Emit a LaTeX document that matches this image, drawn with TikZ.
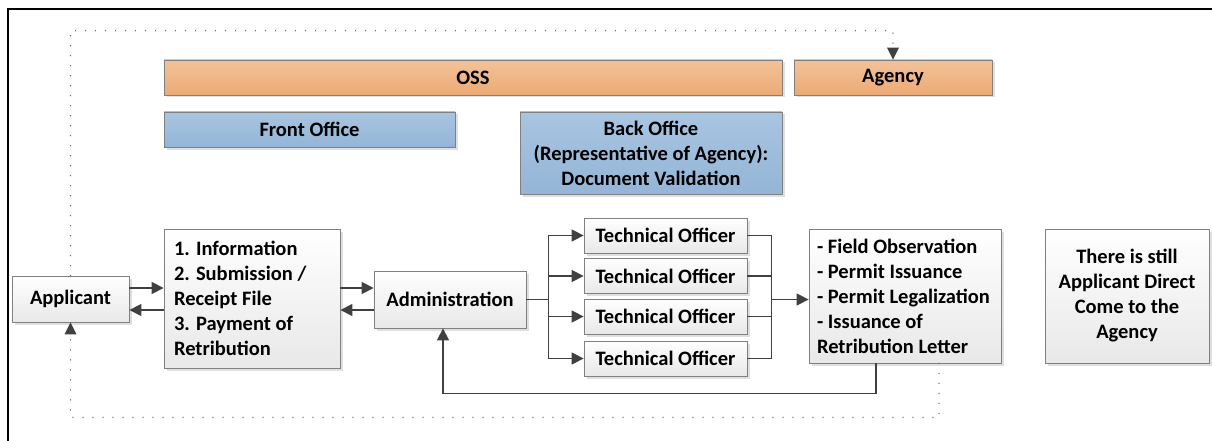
\documentclass[tikz,border=0pt]{standalone}
\usepackage{fontspec}
\setmainfont{Carlito}
\usetikzlibrary{arrows.meta,shadows,calc}
\definecolor{linegray}{RGB}{64,64,64}
\definecolor{boxborder}{RGB}{128,128,128}
\definecolor{orangetop}{RGB}{243,194,154}
\definecolor{orangebot}{RGB}{236,170,116}
\definecolor{bluetop}{RGB}{168,197,225}
\definecolor{bluebot}{RGB}{148,181,215}
\begin{document}
\begin{tikzpicture}[x=1pt,y=-1pt,
  font=\fontsize{20.5pt}{25pt}\selectfont\bfseries,
  base/.style={draw=boxborder, line width=0.8pt, inner sep=0pt, align=center,
    drop shadow={shadow xshift=2.5pt, shadow yshift=-2.5pt, opacity=0.25, fill=gray}},
  orangebox/.style={base, top color=orangetop, bottom color=orangebot},
  bluebox/.style={base, top color=bluetop, bottom color=bluebot},
  whitebox/.style={base, top color=white, bottom color=black!9},
  listbox/.style={whitebox, align=flush left},
  conn/.style={draw=linegray, line width=1.5pt},
  arr/.style={conn, -{Triangle[length=12pt,width=12pt]}},
  dotline/.style={draw=black!60, line width=1.4pt, line cap=round,
    dash pattern=on 0pt off 10pt},
  dotarr/.style={dotline, -{Triangle[length=12pt,width=12pt,fill=linegray,line width=0pt]}}
]
\useasboundingbox (0,0) rectangle (1212,441);
% outer frame
\draw[line width=2pt] (8,460) -- (8,9) -- (1230,9);

% header bars
\node[orangebox, minimum width=618pt, minimum height=35pt] (oss) at (473,77.5) {OSS};
\node[orangebox, minimum width=198pt, minimum height=35pt] (agency) at (893,77.5) {Agency};
\node[bluebox, minimum width=291pt, minimum height=35pt] (front) at (309.5,129.5) {Front Office};
\node[bluebox, minimum width=262pt, minimum height=82pt] (back) at (651,153)
  {Back Office\\(Representative of Agency):\\Document Validation};

% process boxes
\node[whitebox, minimum width=117pt, minimum height=46pt] (app) at (70.5,299) {Applicant};
\node[listbox, text width=156pt, minimum width=176pt, minimum height=139pt] (info) at (252,298.5)
  {1. Information\\2. Submission /\\Receipt File\\3. Payment of\\Retribution};
\node[whitebox, minimum width=152pt, minimum height=57pt] (adm) at (450,299.5) {Administration};
\foreach \i/\y in {1/235.5,2/276,3/316.5,4/358.5}
  \node[whitebox, minimum width=163pt, minimum height=35pt] (to\i) at (665.5,\y) {Technical Officer};
\node[listbox, text width=176pt, minimum width=192pt, minimum height=134pt] (res) at (905,296)
  {- Field Observation\\- Permit Issuance\\- Permit Legalization\\- Issuance of\\Retribution Letter};
\node[whitebox, minimum width=164pt, minimum height=134pt] (still) at (1127,296)
  {There is still\\Applicant Direct\\Come to the\\Agency};

% applicant <-> front desk <-> administration
\draw[arr] ([yshift=11pt]app.east) -- ([yshift=11pt]app.east -| info.west);
\draw[arr] ([yshift=-11pt]app.east -| info.west) -- ([yshift=-11pt]app.east);
\draw[arr] ([yshift=11.5pt]adm.west -| info.east) -- ([yshift=11.5pt]adm.west);
\draw[arr] ([yshift=-10.5pt]adm.west) -- ([yshift=-10.5pt]adm.west -| info.east);

% fan out to the technical officers and merge again
\coordinate (split) at ([xshift=22pt]adm.east);
\coordinate (merge) at ([xshift=24pt]to1.east |- adm.east);
\draw[conn] (adm.east) -- (split);
\foreach \i in {1,2,3,4} {
  \draw[arr] (split) |- (to\i.west);
  \draw[conn] (to\i.east) -| (merge);
}
\draw[arr] (merge) -- (merge -| res.west);

% return to administration
\draw[arr] ([xshift=-29pt]res.south) |- ([xshift=-7pt,yshift=-65pt]adm.south) -- ([xshift=-7pt]adm.south);

% applicant goes directly to the agency / receives the result
\draw[dotarr] (app.north) -- ++(0,-245) -| (agency.north);
\draw[dotarr] ([xshift=34pt]res.south) |- ([yshift=-95pt]app.south) -- (app.south);
\end{tikzpicture}
\end{document}
